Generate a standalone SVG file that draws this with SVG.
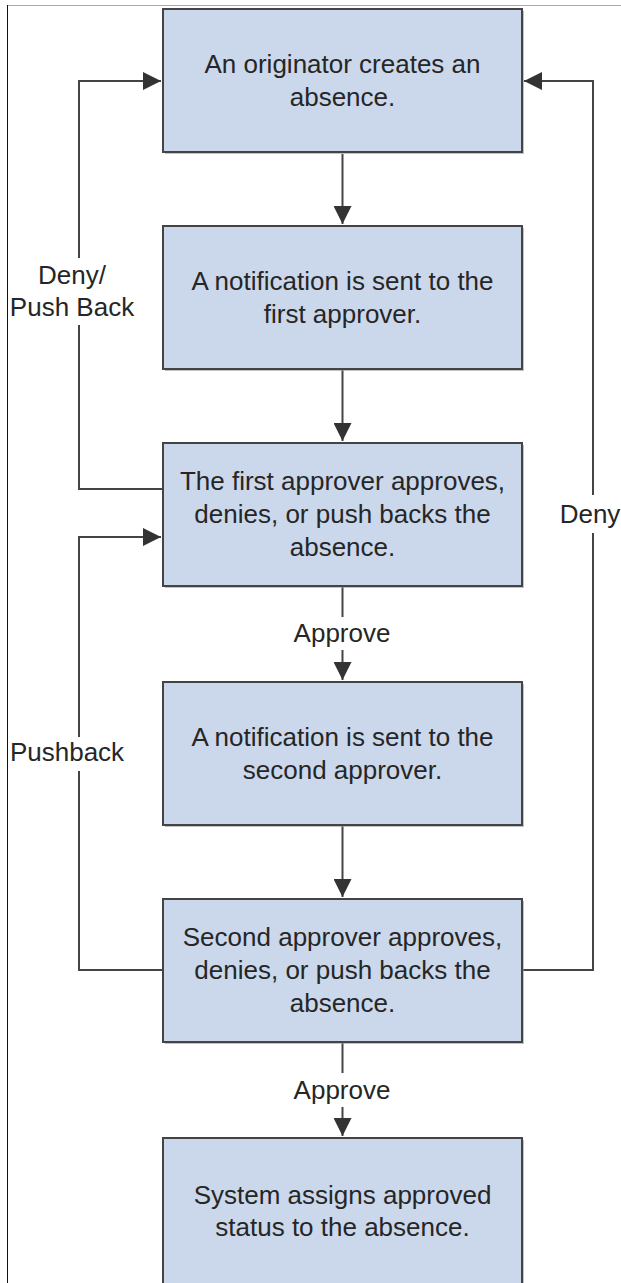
<svg xmlns="http://www.w3.org/2000/svg" width="621" height="1283" viewBox="0 0 621 1283">
<style>
.box{fill:#cbd8eb;stroke:#444;stroke-width:2}
.shadow{fill:#9a9a9a;opacity:0.6}
.t{font-family:"Liberation Sans",Arial,sans-serif;font-size:26px;fill:#262626;text-anchor:middle}
.c{fill:none;stroke:#444;stroke-width:2}
</style>
<defs>
<marker id="ah" markerUnits="userSpaceOnUse" markerWidth="18" markerHeight="18" viewBox="0 0 16 16" refX="16" refY="8" orient="auto">
<path d="M0,0 L16,8 L0,16 Z" fill="#333"/>
</marker>
</defs>
<rect width="621" height="1283" fill="#fff"/>
<line x1="7" y1="5.5" x2="621" y2="5.5" stroke="#aaa" stroke-width="1"/>
<line x1="7.5" y1="5" x2="7.5" y2="1283" stroke="#111" stroke-width="1"/>

<g id="connectors">
<path class="c" d="M342.5,154 V224" marker-end="url(#ah)"/>
<path class="c" d="M342.5,370 V441" marker-end="url(#ah)"/>
<path class="c" d="M342.5,587 V617"/>
<path class="c" d="M342.5,650 V680" marker-end="url(#ah)"/>
<path class="c" d="M342.5,826 V897" marker-end="url(#ah)"/>
<path class="c" d="M342.5,1043 V1073"/>
<path class="c" d="M342.5,1107 V1136" marker-end="url(#ah)"/>
<path class="c" d="M162,489 H79 V325"/>
<path class="c" d="M79,258 V81 H161" marker-end="url(#ah)"/>
<path class="c" d="M162,970 H79 V771"/>
<path class="c" d="M79,737 V537 H161" marker-end="url(#ah)"/>
<path class="c" d="M523,970 H593 V533"/>
<path class="c" d="M593,495 V81 H524" marker-end="url(#ah)"/>
<text class="t" x="342" y="642">Approve</text>
<text class="t" x="342" y="1099">Approve</text>
<text class="t" x="72" y="284">Deny/</text>
<text class="t" x="72" y="316">Push Back</text>
<text class="t" x="67" y="761">Pushback</text>
<text class="t" x="590" y="523">Deny</text>
</g>

<g id="n1">
<rect class="shadow" x="165" y="11" width="359" height="143"/>
<rect class="box" x="163" y="9" width="359" height="143"/>
<text class="t" x="342.5" y="73">An originator creates an</text>
<text class="t" x="342.5" y="106">absence.</text>
</g>
<g id="n2">
<rect class="shadow" x="165" y="228" width="359" height="143"/>
<rect class="box" x="163" y="226" width="359" height="143"/>
<text class="t" x="342.5" y="290">A notification is sent to the</text>
<text class="t" x="342.5" y="323">first approver.</text>
</g>
<g id="n3">
<rect class="shadow" x="165" y="445" width="359" height="143"/>
<rect class="box" x="163" y="443" width="359" height="143"/>
<text class="t" x="342.5" y="490">The first approver approves,</text>
<text class="t" x="342.5" y="523">denies, or push backs the</text>
<text class="t" x="342.5" y="556">absence.</text>
</g>
<g id="n4">
<rect class="shadow" x="165" y="684" width="359" height="143"/>
<rect class="box" x="163" y="682" width="359" height="143"/>
<text class="t" x="342.5" y="746">A notification is sent to the</text>
<text class="t" x="342.5" y="779">second approver.</text>
</g>
<g id="n5">
<rect class="shadow" x="165" y="901" width="359" height="143"/>
<rect class="box" x="163" y="899" width="359" height="143"/>
<text class="t" x="342.5" y="946">Second approver approves,</text>
<text class="t" x="342.5" y="979">denies, or push backs the</text>
<text class="t" x="342.5" y="1012">absence.</text>
</g>
<g id="n6">
<rect class="shadow" x="165" y="1140" width="359" height="200"/>
<rect class="box" x="163" y="1138" width="359" height="200"/>
<text class="t" x="342.5" y="1204">System assigns approved</text>
<text class="t" x="342.5" y="1236">status to the absence.</text>
</g>
</svg>
